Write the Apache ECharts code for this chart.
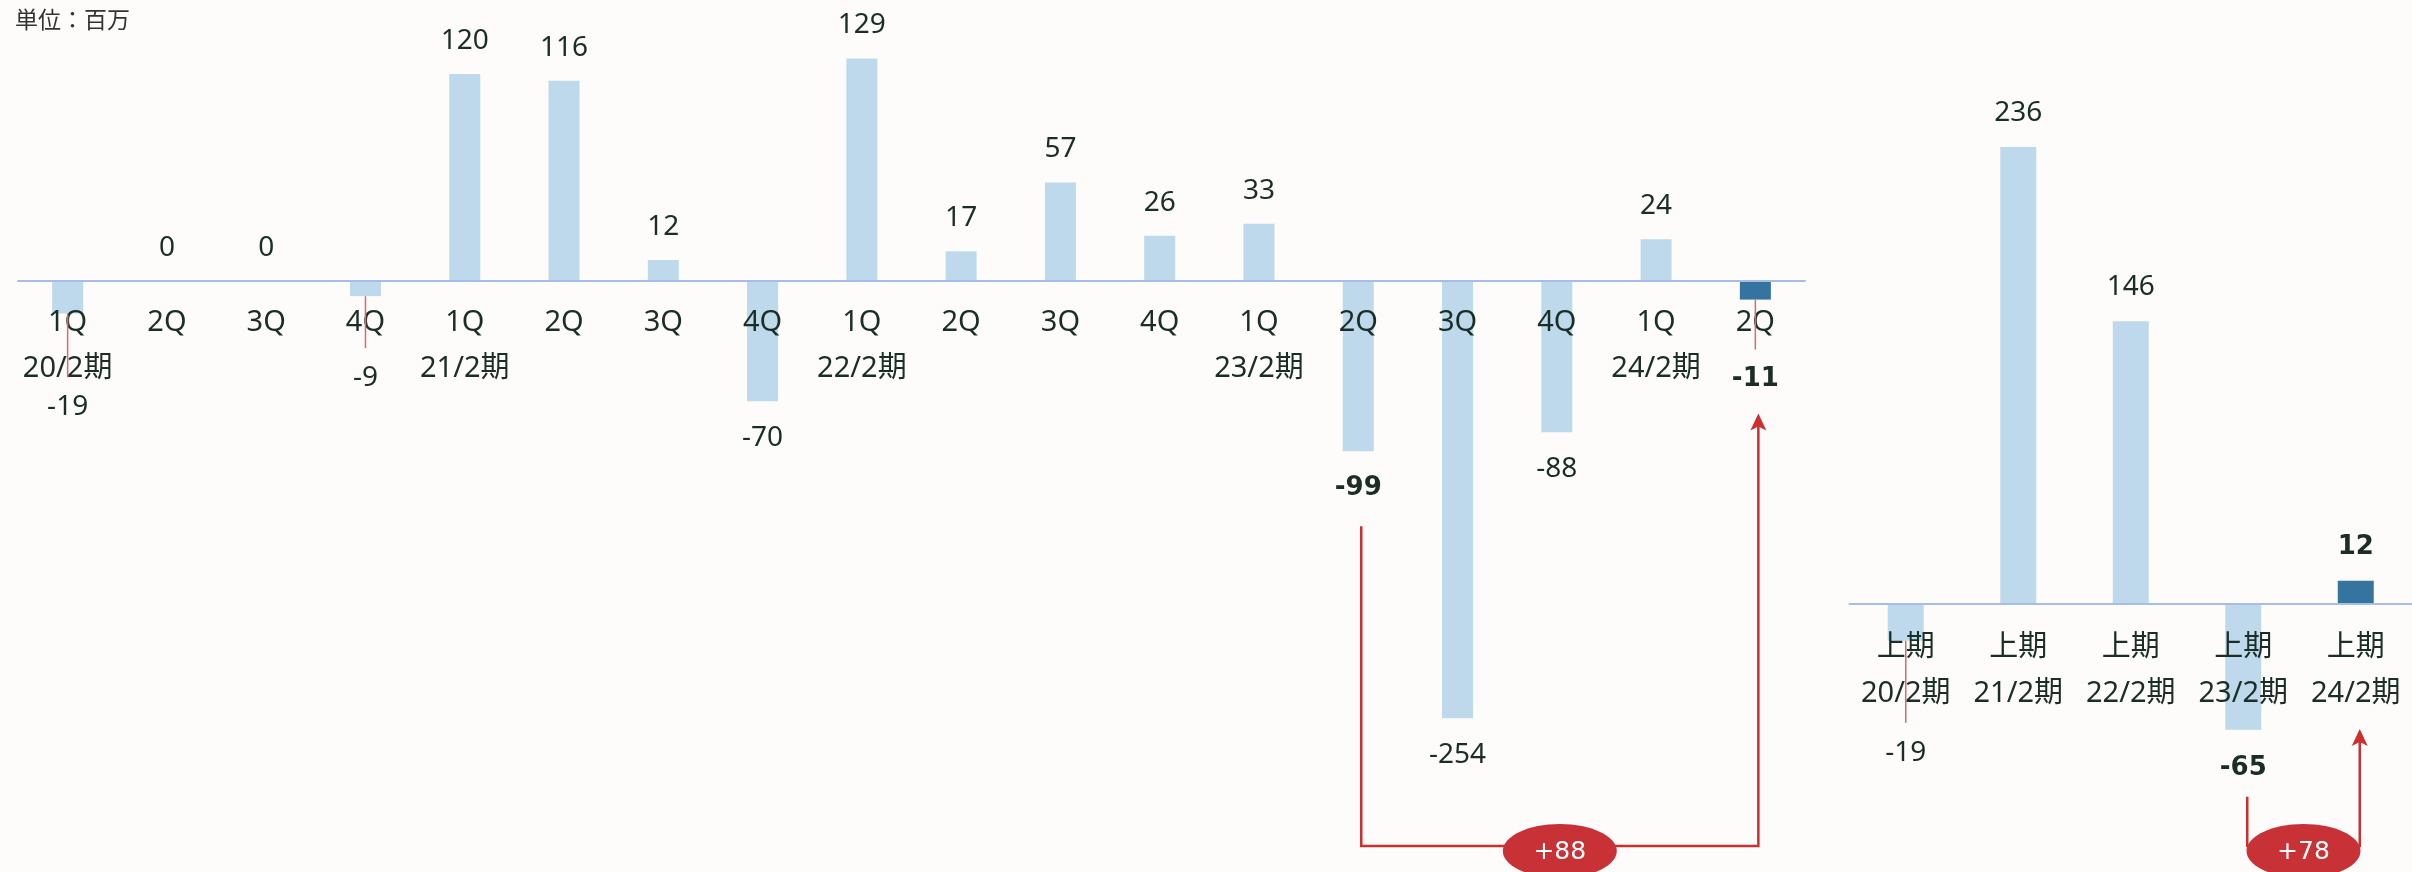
<!DOCTYPE html>
<html>
<head>
<meta charset="utf-8">
<script src="https://cdn.jsdelivr.net/npm/echarts@6/dist/echarts.min.js"></script>
<style>
  html, body { margin: 0; padding: 0; background: #fdfcfb; }
  #chart { width: 2412px; height: 872px; }
</style>
</head>
<body>
<div id="chart"></div>
<script>
// quarterly figures (left) and first-half figures (right), unit: million
const quarterLabels = [
  '1Q\n20/2期', '2Q', '3Q', '4Q',
  '1Q\n21/2期', '2Q', '3Q', '4Q',
  '1Q\n22/2期', '2Q', '3Q', '4Q',
  '1Q\n23/2期', '2Q', '3Q', '4Q',
  '1Q\n24/2期', '2Q'
]
const quarterValues = [-19, 0, 0, -9, 120, 116, 12, -70, 129, 17, 57, 26, 33, -99, -254, -88, 24, -11]

const halfLabels = ['上期\n20/2期', '上期\n21/2期', '上期\n22/2期', '上期\n23/2期', '上期\n24/2期']
const halfValues = [-19, 236, 146, -65, 12]

const changeLabels = ['+88', '+78']

const LIGHT = '#bed9eb'
const DARK = '#35749f'
const TEXT = '#1b2e25'
const RED = '#c9302f'
const AXIS = '#a7bde6'
const FONT = "'Noto Sans', 'Noto Sans CJK JP', sans-serif"

// grid boxes and value ranges of the two panels
const leftGrid = { left: 18, width: 1787, top: 39.5, height: 689 }
const rightGrid = { left: 1849.5, width: 565, top: 119.9, height: 639 }
const leftRange = [-260, 140]
const rightRange = [-80, 250]

// labels pushed below the axis labels (index -> distance)
const leftDrops = { 0: 80, 3: 68, 17: 66 }
const rightDrops = { 0: 98 }
const leftBold = [13, 17]
const rightBold = [3, 4]

function makeItems (values, drops, bolds, negDist, posDist) {
  return values.map((v, i) => {
    const bold = bolds.includes(i)
    let dist = v < 0 ? negDist : posDist
    if (drops[i] !== undefined) dist = drops[i]
    return {
      value: v,
      itemStyle: { color: i === values.length - 1 ? DARK : LIGHT },
      label: {
        show: true,
        position: v < 0 ? 'bottom' : 'top',
        distance: dist,
        fontFamily: bold ? 'DejaVu Sans' : FONT,
        fontWeight: bold ? 'bold' : 'normal',
        fontSize: bold ? 26 : 28,
        lineHeight: 28,
        color: TEXT
      }
    }
  })
}

// category axis lifted from the grid bottom up to the zero line
function xAxisOf (gridIndex, data, margin, grid, range) {
  const lift = grid.height * (0 - range[0]) / (range[1] - range[0])
  return {
    type: 'category',
    gridIndex: gridIndex,
    data: data,
    offset: -lift,
    z: 5,
    axisTick: { show: false },
    axisLine: { onZero: false, lineStyle: { color: AXIS, width: 2 } },
    axisLabel: {
      interval: 0,
      margin: margin,
      fontFamily: FONT,
      fontSize: 29,
      lineHeight: 46,
      color: TEXT
    }
  }
}

const chart = echarts.init(document.getElementById('chart'))

chart.setOption({
  backgroundColor: '#fdfcfb',
  animation: false,
  title: {
    text: '単位：百万',
    left: 10,
    top: 3,
    textStyle: { fontFamily: "'Noto Sans CJK JP', sans-serif", fontSize: 23, fontWeight: 'normal', color: '#333' }
  },
  grid: [leftGrid, rightGrid],
  xAxis: [
    xAxisOf(0, quarterLabels, 19, leftGrid, leftRange),
    xAxisOf(1, halfLabels, 21, rightGrid, rightRange)
  ],
  yAxis: [
    { type: 'value', gridIndex: 0, min: leftRange[0], max: leftRange[1], show: false, splitLine: { show: false } },
    { type: 'value', gridIndex: 1, min: rightRange[0], max: rightRange[1], show: false, splitLine: { show: false } }
  ],
  series: [
    {
      type: 'bar',
      xAxisIndex: 0,
      yAxisIndex: 0,
      barWidth: 31,
      data: makeItems(quarterValues, leftDrops, leftBold, 23, 19)
    },
    {
      type: 'bar',
      xAxisIndex: 1,
      yAxisIndex: 1,
      barWidth: 36,
      data: makeItems(halfValues, rightDrops, rightBold, 24, 20)
    }
  ]
})

// leader lines, brackets and change badges placed from the chart's own scales
function pt (grid, i, v) {
  return chart.convertToPixel({ gridIndex: grid }, [i, v])
}

const graphics = []
const bottomY = 872 - 26

function leader (grid, values, drops) {
  Object.keys(drops).forEach(k => {
    const i = Number(k)
    const end = pt(grid, i, values[i])
    graphics.push({
      type: 'line',
      z: 10,
      shape: { x1: end[0], y1: end[1], x2: end[0], y2: end[1] + drops[k] - 16 },
      style: { stroke: '#d66b6d', lineWidth: 1.5 }
    })
  })
}
leader(0, quarterValues, leftDrops)
leader(1, halfValues, rightDrops)

function bracket (grid, from, to, startY, tipY, text, shift) {
  const x1 = pt(grid, from, 0)[0] + shift
  const x2 = pt(grid, to, 0)[0] + shift
  graphics.push({
    type: 'polyline',
    z: 10,
    shape: { points: [[x1, startY], [x1, bottomY], [x2, bottomY], [x2, tipY + 12]] },
    style: { stroke: RED, lineWidth: 2.5, fill: null }
  })
  graphics.push({
    type: 'polygon',
    z: 10,
    shape: { points: [[x2, tipY], [x2 + 8, tipY + 17], [x2, tipY + 13], [x2 - 8, tipY + 17]] },
    style: { fill: RED }
  })
  const cx = (x1 + x2) / 2
  graphics.push({
    type: 'ellipse',
    z: 11,
    shape: { cx: cx, cy: 851, rx: 57, ry: 27 },
    style: { fill: '#c83236' }
  })
  graphics.push({
    type: 'text',
    z: 12,
    x: cx,
    y: 852,
    style: {
      text: text,
      fill: '#fff',
      fontFamily: 'DejaVu Sans',
      fontSize: 25,
      align: 'center',
      verticalAlign: 'middle'
    }
  })
}

const l13 = pt(0, 13, quarterValues[13])
const l17 = pt(0, 17, quarterValues[17])
bracket(0, 13, 17, l13[1] + 75, l17[1] + 114, changeLabels[0], 3)

const r3 = pt(1, 3, halfValues[3])
const r0 = pt(1, 4, 0)
bracket(1, 3, 4, r3[1] + 67, r0[1] + 125, changeLabels[1], 4)

chart.setOption({ graphic: graphics })
</script>
</body>
</html>
